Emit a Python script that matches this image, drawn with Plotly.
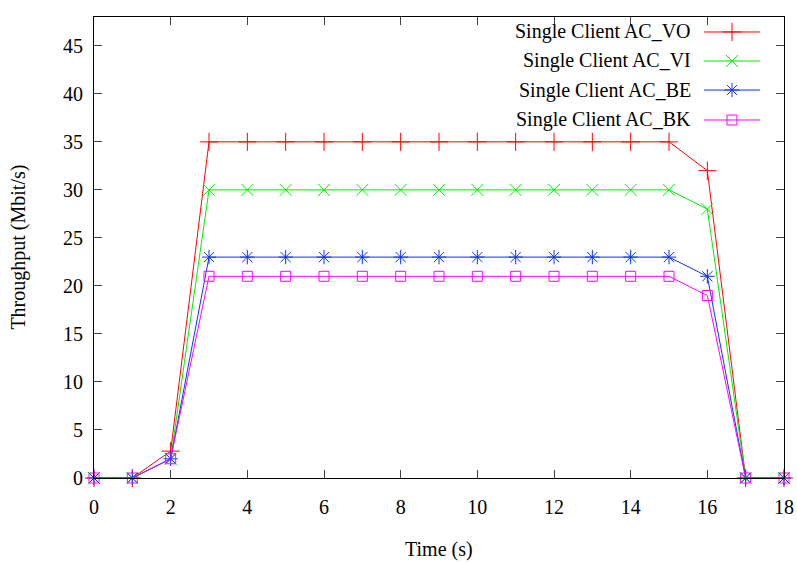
import plotly.graph_objects as go

time_s = list(range(0, 19))
series_names = ["Single Client AC_VO", "Single Client AC_VI", "Single Client AC_BE", "Single Client AC_BK"]
vo = [0, 0, 2.8] + [35] * 13 + [32, 0, 0]
vi = [0, 0, 2] + [30] * 13 + [28, 0, 0]
be = [0, 0, 2] + [23] * 13 + [21, 0, 0]
bk = [0, 0, 2] + [21] * 13 + [19, 0, 0]
values = [vo, vi, be, bk]
x_ticks = list(range(0, 19, 2))
y_ticks = list(range(0, 46, 5))

colors = ["#ff0000", "#00ee00", "#1030ff", "#ff00ff"]
symbols = ["cross-thin-open", "x-thin-open", "asterisk-open", "square-open"]
sizes = [13, 12, 12, 10]
FONT = "Liberation Serif"
FS = 20

fig = go.Figure()
for name, ys, c, s, sz in zip(series_names, values, colors, symbols, sizes):
    fig.add_trace(go.Scatter(
        x=time_s, y=ys, mode="lines+markers", name=name,
        line=dict(color=c, width=1),
        marker=dict(symbol=s, size=sz, color=c, line=dict(color=c, width=1)),
        showlegend=False,
    ))

# custom gnuplot-style legend (text right-aligned, sample on right)
leg_y = [0.9675, 0.9046, 0.8416, 0.7766]
for name, c, s, sz, ly in zip(series_names, colors, symbols, sizes, leg_y):
    fig.add_annotation(x=0.868, y=ly, xref="paper", yref="paper", text=name,
                       showarrow=False, xanchor="right", yanchor="middle",
                       font=dict(family=FONT, size=FS, color="black"))
    fig.add_shape(type="line", xref="paper", yref="paper", x0=0.884, x1=0.9652,
                  y0=ly, y1=ly, line=dict(color=c, width=1))
    fig.add_trace(go.Scatter(x=[0.9246], y=[ly], xaxis="x2", yaxis="y2", mode="markers",
                             marker=dict(symbol=s, size=sz, color=c, line=dict(color=c, width=1)),
                             showlegend=False, hoverinfo="skip"))

# axis titles
fig.add_annotation(x=0.5, y=-0.156, xref="paper", yref="paper", text="Time (s)",
                   showarrow=False, xanchor="center", yanchor="middle",
                   font=dict(family=FONT, size=FS))
fig.add_annotation(x=-0.110, y=0.5, xref="paper", yref="paper", text="Throughput (Mbit/s)",
                   showarrow=False, xanchor="center", yanchor="middle", textangle=-90,
                   font=dict(family=FONT, size=FS))

fig.update_layout(
    width=797, height=564,
    margin=dict(l=94, r=13, t=17, b=86, autoexpand=False),
    paper_bgcolor="white", plot_bgcolor="white",
    font=dict(family=FONT, size=FS, color="black"),
    xaxis=dict(range=[0, 18], tickvals=x_ticks, ticks="inside", ticklen=8,
               showline=True, linecolor="black", linewidth=1, mirror="ticks",
               showgrid=False, zeroline=False, automargin=False, ticklabelstandoff=11),
    yaxis=dict(range=[0, 48], tickvals=y_ticks, ticks="inside", ticklen=8,
               showline=True, linecolor="black", linewidth=1, mirror="ticks",
               showgrid=False, zeroline=False, automargin=False, ticklabelstandoff=6),
    xaxis2=dict(range=[0, 1], overlaying="x", visible=False),
    yaxis2=dict(range=[0, 1], overlaying="y", visible=False),
    showlegend=False,
)
fig.update_traces(cliponaxis=False)

# remove the browser's default 8px body margin so the figure fills the window exactly
fig.write_html("out.html", config={"displayModeBar": False},
               post_script="document.body.style.margin='0';document.body.style.overflow='hidden';")
